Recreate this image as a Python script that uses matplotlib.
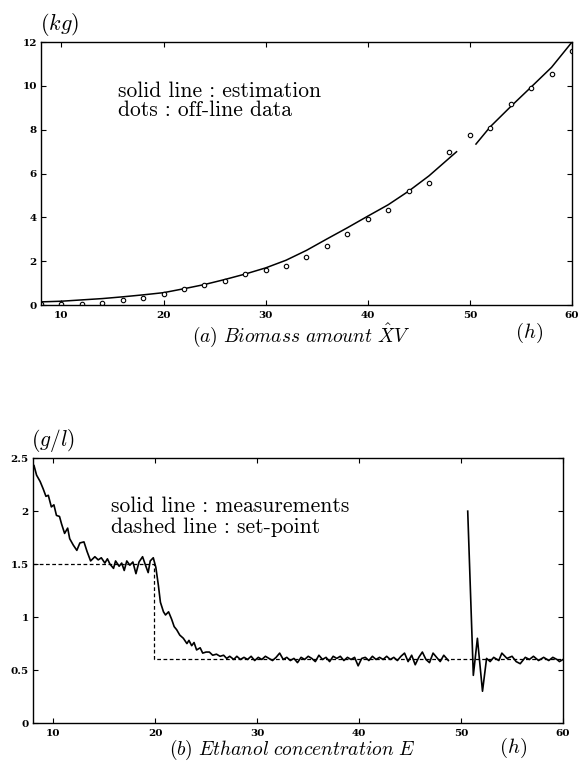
import numpy as np
import matplotlib
matplotlib.use("Agg")
import matplotlib.pyplot as plt

plt.rcParams['mathtext.fontset'] = 'cm'

# ---- (a) Biomass amount ----
est_x = [8, 10, 12, 14, 16, 18, 20, 22, 24, 26, 28, 30, 32, 34, 36, 38, 40, 42, 44, 46, 48.7,
         np.nan, 50.6, 52, 54, 56, 58, 60]
est_y = [0.15, 0.18, 0.24, 0.3, 0.38, 0.47, 0.57, 0.75, 0.94, 1.17, 1.42, 1.7, 2.05, 2.5, 3.02,
         3.53, 4.06, 4.58, 5.2, 5.9, 7.0, np.nan, 7.35, 8.14, 9.06, 9.95, 10.85, 12.0]

dots_x = [8, 10, 12, 14, 16, 18, 20, 22, 24, 26, 28, 30, 32, 34, 36, 38, 40, 42, 44, 46, 48,
          50, 52, 54, 56, 58, 60]
dots_y = [0.05, 0.05, 0.05, 0.1, 0.23, 0.32, 0.5, 0.73, 0.91, 1.1, 1.42, 1.6, 1.78, 2.19, 2.7,
          3.24, 3.93, 4.34, 5.2, 5.57, 7.0, 7.76, 8.1, 9.2, 9.9, 10.55, 11.6]

top_yticks = [0, 2, 4, 6, 8, 10, 12]
xticks = [10, 20, 30, 40, 50, 60]

# ---- (b) Ethanol concentration ----
meas_x = [8.1, 8.35, 8.7, 9.0, 9.27, 9.5, 9.8, 10.05, 10.3, 10.6, 10.8, 11.1, 11.4, 11.6, 11.95,
          12.3, 12.6, 13.0, 13.3, 13.65, 14.07, 14.4, 14.7, 15.05, 15.3, 15.55, 15.9, 16.1, 16.45,
          16.7, 16.95, 17.2, 17.5, 17.8, 18.1, 18.4, 18.75, 19.0, 19.3, 19.5, 19.8, 20.05, 20.3,
          20.5, 20.8, 21.0, 21.3, 21.6, 21.85, 22.1, 22.4, 22.75, 23.1, 23.3, 23.57, 23.8, 24.05,
          24.4, 24.65, 24.98, 25.3, 25.63, 26.0, 26.35, 26.7, 27.0, 27.3, 27.7,
          28.0, 28.35, 28.7, 29.05, 29.4, 29.75, 30.1, 30.45, 30.8, 31.15, 31.5, 31.85, 32.2,
          32.55, 32.9, 33.25, 33.6, 33.95, 34.3, 34.65, 35.0, 35.35, 35.7, 36.05, 36.4, 36.75,
          37.1, 37.45, 37.8, 38.15, 38.5, 38.85, 39.2, 39.55, 39.9, 40.25, 40.6, 40.95, 41.3,
          41.65, 42.0, 42.35, 42.7, 43.05, 43.4, 43.75, 44.1, 44.45, 44.8, 45.15, 45.5, 45.85,
          46.2, 46.55, 46.9, 47.25, 47.6, 47.95, 48.3, 48.75,
          np.nan,
          50.65, 51.2, 51.6, 52.1, 52.5, 52.85, 53.2, 53.7, 54.0, 54.5, 55.0, 55.4, 55.8, 56.3,
          56.7, 57.1, 57.6, 58.1, 58.6, 59.0, 59.4, 59.65, 60.0]
meas_y = [2.43, 2.34, 2.28, 2.21, 2.14, 2.15, 2.04, 2.06, 1.96, 1.95, 1.88, 1.79, 1.84, 1.74, 1.68,
          1.63, 1.70, 1.71, 1.62, 1.53, 1.57, 1.54, 1.56, 1.51, 1.55, 1.50, 1.46, 1.53, 1.48,
          1.51, 1.44, 1.53, 1.49, 1.52, 1.41, 1.52, 1.57, 1.50, 1.42, 1.53, 1.56, 1.47, 1.30,
          1.14, 1.05, 1.02, 1.05, 0.98, 0.91, 0.88, 0.83, 0.80, 0.75, 0.78, 0.73, 0.76, 0.69,
          0.71, 0.66, 0.67, 0.67, 0.64, 0.65, 0.63, 0.64, 0.61, 0.63, 0.60,
          0.63, 0.60, 0.62, 0.60, 0.63, 0.59, 0.62, 0.60, 0.63, 0.61, 0.59, 0.62, 0.66,
          0.60, 0.62, 0.59, 0.61, 0.57, 0.62, 0.60, 0.63, 0.61, 0.58, 0.64, 0.60, 0.62,
          0.58, 0.63, 0.61, 0.63, 0.59, 0.62, 0.60, 0.62, 0.54, 0.61, 0.62, 0.59, 0.63,
          0.60, 0.62, 0.60, 0.63, 0.60, 0.62, 0.59, 0.63, 0.66, 0.58, 0.64, 0.55, 0.62,
          0.67, 0.60, 0.57, 0.66, 0.62, 0.58, 0.64, 0.59,
          np.nan,
          2.0, 0.45, 0.80, 0.30, 0.61, 0.58, 0.62, 0.59, 0.66, 0.61, 0.63, 0.58, 0.56, 0.62,
          0.60, 0.63, 0.59, 0.62, 0.59, 0.62, 0.60, 0.58, 0.60]

sp_x = [8, 19.9, 19.9, 60]
sp_y = [1.5, 1.5, 0.6, 0.6]

bot_yticks = [0, 0.5, 1, 1.5, 2, 2.5]
bot_yticklabels = ['0', '0.5', '1', '1.5', '2', '2.5']

fig = plt.figure(figsize=(5.79, 7.61), dpi=100)

def style(ax):
    ax.tick_params(direction='in', top=True, right=True, length=3.5, width=0.8)
    ax.tick_params(axis='x', pad=4)
    ax.tick_params(axis='y', pad=3)
    for s in ax.spines.values():
        s.set_linewidth(1.0)
    for lab in ax.get_xticklabels() + ax.get_yticklabels():
        lab.set_fontfamily('DejaVu Serif')
        lab.set_fontweight('bold')
        lab.set_fontsize(7.5)

legend_font = dict(fontfamily='cmr10', fontsize=15.5, va='baseline', ha='left')

# top axes
ax1 = fig.add_axes([0.0708, 0.599, 0.917, 0.3456])
ax1.plot(est_x, est_y, color='black', lw=1.1)
ax1.plot(dots_x, dots_y, linestyle='none', marker='o', ms=3.2, mfc='white', mec='black', mew=0.8)
ax1.set_xlim(8, 60)
ax1.set_ylim(0, 12)
ax1.set_xticks(xticks)
ax1.set_yticks(top_yticks)
style(ax1)
ax1.text(0.145, 0.792, 'solid line : estimation', transform=ax1.transAxes, **legend_font)
ax1.text(0.145, 0.72, 'dots : off-line data', transform=ax1.transAxes, **legend_font)
fig.text(60/579, 1-24/761, r'$(kg)$', fontsize=16, ha='center', va='center')
fig.text(301/579, 1-335/761, r'$(a)\ Biomass\ amount\ \hat{X}V$', fontsize=14, ha='center', va='center')
fig.text(529/579, 1-333/761, r'$(h)$', fontsize=15, ha='center', va='center')

# bottom axes
ax2 = fig.add_axes([0.057, 0.0499, 0.9154, 0.348])
ax2.plot(sp_x, sp_y, color='black', lw=0.9, linestyle=(0, (3, 2)))
ax2.plot(meas_x, meas_y, color='black', lw=1.2)
ax2.set_xlim(8, 60)
ax2.set_ylim(0, 2.5)
ax2.set_xticks(xticks)
ax2.set_yticks(bot_yticks)
ax2.set_yticklabels(bot_yticklabels)
style(ax2)
ax2.text(0.147, 0.795, 'solid line : measurements', transform=ax2.transAxes, **legend_font)
ax2.text(0.147, 0.717, 'dashed line : set-point', transform=ax2.transAxes, **legend_font)
fig.text(53/579, 1-441/761, r'$(g/l)$', fontsize=15.5, ha='center', va='center')
fig.text(292/579, 1-750/761, r'$(b)\ Ethanol\ concentration\ E$', fontsize=14, ha='center', va='center')
fig.text(513/579, 1-748/761, r'$(h)$', fontsize=15, ha='center', va='center')

fig.savefig('out.png', dpi=100)
